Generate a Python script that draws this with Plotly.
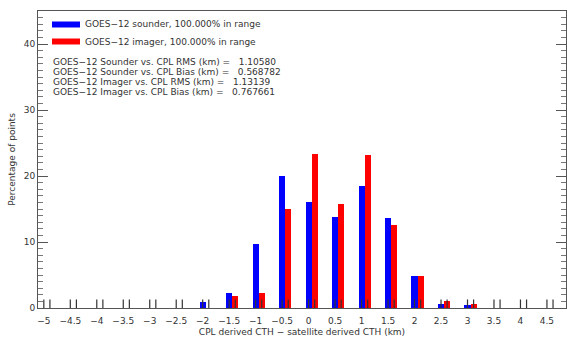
import plotly.graph_objects as go

bins = [-5, -4.5, -4, -3.5, -3, -2.5, -2, -1.5, -1, -0.5, 0, 0.5, 1, 1.5, 2, 2.5, 3, 3.5, 4, 4.5]
sounder = [0, 0, 0, 0, 0, 0, 0.95, 2.3, 9.7, 20.0, 16.0, 13.8, 18.5, 13.6, 4.9, 0.6, 0.45, 0, 0, 0]
imager = [0, 0, 0, 0, 0, 0, 0, 1.8, 2.3, 15.0, 23.4, 15.8, 23.2, 12.6, 4.9, 1.1, 0.6, 0, 0, 0]
tick_vals = bins
tick_text = [("%g" % b).replace("-", "−") for b in bins]
stats = [
    "GOES−12 Sounder vs. CPL RMS (km) =   1.10580",
    "GOES−12 Sounder vs. CPL Bias (km) =   0.568782",
    "GOES−12 Imager vs. CPL RMS (km) =   1.13139",
    "GOES−12 Imager vs. CPL Bias (km) =   0.767661",
]
legend_labels = ["GOES−12 sounder, 100.000% in range", "GOES−12 imager, 100.000% in range"]
colors = ["#0000ff", "#ff0000"]

W = 0.115
xs_s = [b for b in bins]
xs_i = [b + W for b in bins]

fig = go.Figure()
fig.add_trace(go.Bar(x=xs_s, y=sounder, width=W, marker=dict(color=colors[0], line=dict(width=0)), showlegend=False))
fig.add_trace(go.Bar(x=xs_i, y=imager, width=W, marker=dict(color=colors[1], line=dict(width=0)), showlegend=False))
# small dark markers at every bin base
fig.add_trace(go.Scatter(x=xs_s + xs_i, y=[0.55] * (2 * len(bins)), mode="markers",
                         marker=dict(symbol="line-ns", size=7, line=dict(width=1.2, color="#333333")),
                         showlegend=False, hoverinfo="skip"))

font = "DejaVu Sans"
PW = 528
fig.update_layout(
    width=567, height=337,
    margin=dict(l=38, r=1, t=11, b=29),
    paper_bgcolor="white", plot_bgcolor="white",
    bargap=0, barmode="overlay",
    font=dict(family=font, size=9, color="#333333"),
    xaxis=dict(range=[-5.11, 4.86], tickvals=tick_vals, ticktext=tick_text, ticks="",
               showgrid=False, zeroline=False, showline=True, linecolor="#555555", linewidth=1,
               mirror=True, tickfont=dict(size=9), ticklabelstandoff=4,
               title=dict(text="CPL derived CTH − satellite derived CTH (km)", font=dict(size=9), standoff=3)),
    yaxis=dict(range=[0, 45], tickvals=[0, 10, 20, 30, 40], ticks="inside", ticklen=10,
               tickcolor="#555555", showgrid=False, zeroline=False, showline=True,
               linecolor="#555555", linewidth=1, mirror="ticks", tickfont=dict(size=9),
               minor=dict(dtick=1, ticks="inside", ticklen=5, tickcolor="#777777"),
               title=dict(text="Percentage of points", font=dict(size=9), standoff=6)),
)

leg_y = [24.5, 41.5]
for i in range(2):
    fig.add_shape(type="rect", xref="paper", yref="paper",
                  x0=(52 - 38) / PW, x1=(80 - 38) / PW,
                  y0=(308 - leg_y[i] - 3) / 297, y1=(308 - leg_y[i] + 3) / 297,
                  fillcolor=colors[i], line=dict(width=0))
    fig.add_annotation(xref="paper", yref="paper", x=(83 - 38) / PW, y=(308 - leg_y[i]) / 297,
                       text=legend_labels[i], showarrow=False, xanchor="left", yanchor="middle",
                       font=dict(size=9, color="#333333"))

stat_y = [62, 72, 82, 92]
for t, yy in zip(stats, stat_y):
    fig.add_annotation(xref="paper", yref="paper", x=(51 - 38) / PW, y=(308 - yy) / 297,
                       text=t, showarrow=False, xanchor="left", yanchor="middle",
                       font=dict(size=9, color="#333333"))

fig.write_html("out.html", config={"displayModeBar": False},
               post_script="document.body.style.margin='0px';document.body.style.overflow='hidden';")
